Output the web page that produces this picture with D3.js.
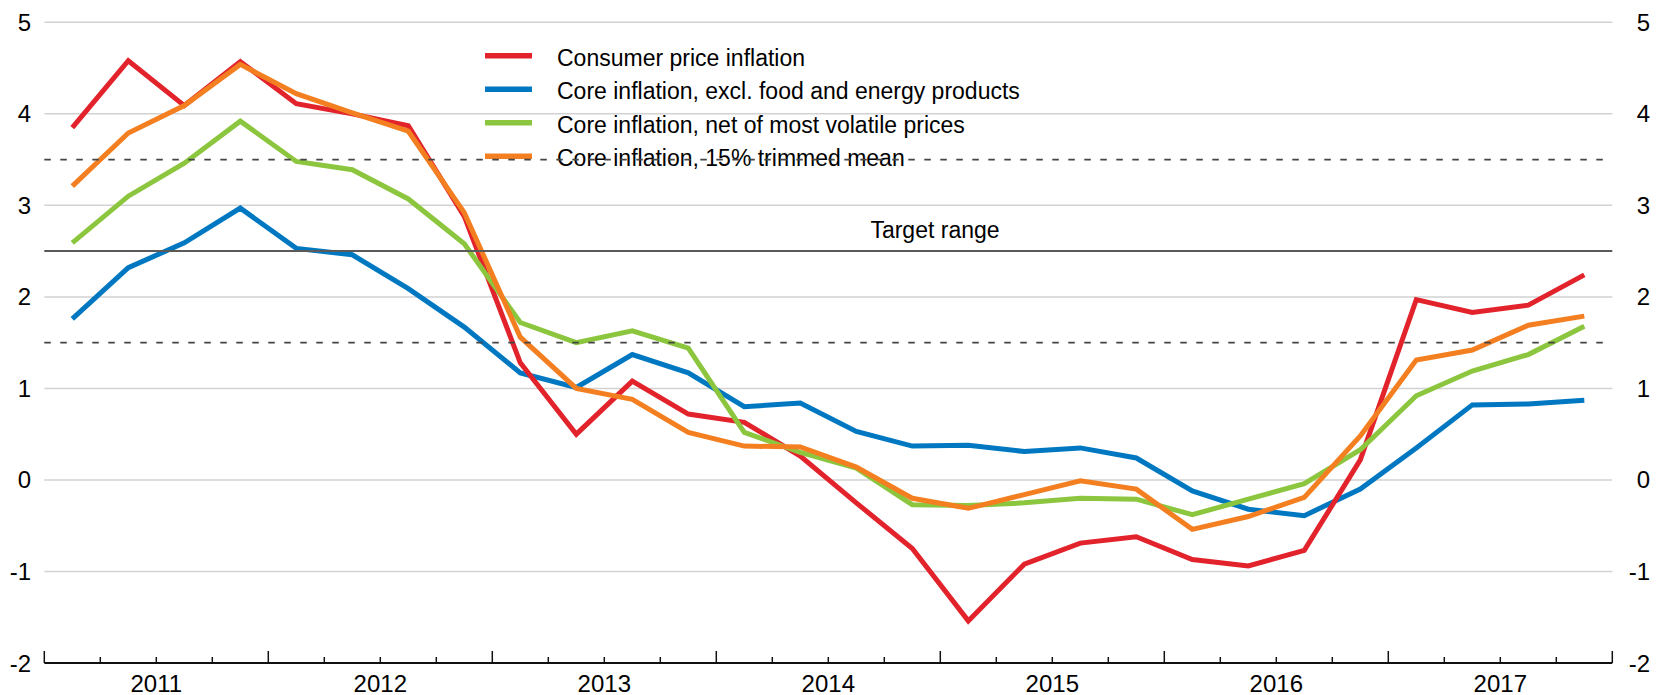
<!DOCTYPE html>
<html>
<head>
<meta charset="utf-8">
<script src="https://cdn.jsdelivr.net/npm/d3@7"></script>
<style>
  html, body { margin: 0; padding: 0; background: #fff; }
  svg { display: block; }
  text { font-family: "Liberation Sans", Arial, Helvetica, sans-serif; fill: #000; }
</style>
</head>
<body>
<svg id="chart" width="1665" height="695"></svg>
<script>
// ---- Data (quarterly, 2011 Q1 – 2017 Q4) ----
const quarters = [
  "2011Q1","2011Q2","2011Q3","2011Q4","2012Q1","2012Q2","2012Q3","2012Q4",
  "2013Q1","2013Q2","2013Q3","2013Q4","2014Q1","2014Q2","2014Q3","2014Q4",
  "2015Q1","2015Q2","2015Q3","2015Q4","2016Q1","2016Q2","2016Q3","2016Q4",
  "2017Q1","2017Q2","2017Q3","2017Q4"
];
const years = ["2011","2012","2013","2014","2015","2016","2017"];
const yTicks = [-2, -1, 0, 1, 2, 3, 4, 5];

const cpi = [3.85, 4.58, 4.09, 4.57, 4.11, 4.00, 3.87, 2.88, 1.28, 0.50, 1.08, 0.72, 0.63, 0.26,
             -0.25, -0.75, -1.54, -0.92, -0.69, -0.62, -0.87, -0.94, -0.77, 0.22, 1.97, 1.83, 1.91, 2.24];
const coreExFoodEnergy = [1.76, 2.32, 2.59, 2.97, 2.53, 2.46, 2.09, 1.67, 1.17, 1.01, 1.37, 1.17, 0.80, 0.84,
             0.53, 0.37, 0.38, 0.31, 0.35, 0.24, -0.12, -0.32, -0.39, -0.10, 0.35, 0.82, 0.83, 0.87];
const coreNetVolatile = [2.59, 3.10, 3.46, 3.92, 3.48, 3.39, 3.07, 2.58, 1.72, 1.50, 1.63, 1.44, 0.52, 0.30,
             0.13, -0.27, -0.28, -0.25, -0.20, -0.21, -0.38, -0.21, -0.04, 0.33, 0.92, 1.19, 1.37, 1.68];
const coreTrimmed = [3.21, 3.79, 4.09, 4.54, 4.22, 4.01, 3.81, 2.92, 1.56, 1.00, 0.88, 0.52, 0.37, 0.36,
             0.14, -0.20, -0.31, -0.16, -0.01, -0.10, -0.54, -0.40, -0.19, 0.48, 1.31, 1.42, 1.69, 1.79];

const seriesNames = [
  "Consumer price inflation",
  "Core inflation, excl. food and energy products",
  "Core inflation, net of most volatile prices",
  "Core inflation, 15% trimmed mean"
];
const seriesColors = ["#e2232b", "#0078c1", "#8cc63f", "#f47f20"];
const seriesValues = [cpi, coreExFoodEnergy, coreNetVolatile, coreTrimmed];

const targetMid = 2.5;
const targetBand = [1.5, 3.5];
const targetLabel = "Target range";

// ---- Layout ----
const svg = d3.select("#chart");
const plotLeft = 44.3, plotRight = 1612.3, plotTop = 22.3, plotBottom = 663;

const x = d3.scaleLinear().domain([0, quarters.length]).range([plotLeft, plotRight]);
const y = d3.scaleLinear().domain([-2, 5]).range([plotBottom, plotTop]);

// gridlines
svg.append("g").selectAll("line").data(yTicks.filter(d => d > -2)).join("line")
  .attr("x1", plotLeft).attr("x2", plotRight)
  .attr("y1", d => y(d)).attr("y2", d => y(d))
  .attr("stroke", "#d2d2d2").attr("stroke-width", 1.5);

// y labels left & right
const yl = svg.append("g");
yl.selectAll("text.l").data(yTicks).join("text").attr("class", "l")
  .attr("x", 31).attr("y", d => y(d) + 8.5)
  .attr("text-anchor", "end").attr("font-size", 24)
  .text(d => d);
yl.selectAll("text.r").data(yTicks).join("text").attr("class", "r")
  .attr("x", 1650).attr("y", d => y(d) + 8.5)
  .attr("text-anchor", "end").attr("font-size", 24)
  .text(d => d);

// series
const line = d3.line()
  .x((d, i) => x(i + 0.5))
  .y(d => y(d));
const order = [1, 0, 2, 3];
svg.append("g").selectAll("path").data(order).join("path")
  .attr("d", k => line(seriesValues[k]))
  .attr("fill", "none")
  .attr("stroke", k => seriesColors[k])
  .attr("stroke-width", 5)
  .attr("stroke-linejoin", "miter");

// legend
const lg = svg.append("g");
const legY0 = 55.7, legStep = 33.5;
seriesNames.forEach((name, i) => {
  lg.append("line")
    .attr("x1", 485).attr("x2", 532)
    .attr("y1", legY0 + i * legStep).attr("y2", legY0 + i * legStep)
    .attr("stroke", seriesColors[i]).attr("stroke-width", 5.5);
  lg.append("text")
    .attr("x", 557).attr("y", legY0 + i * legStep + 10)
    .attr("font-size", 23)
    .text(name);
});

// target range lines (drawn on top)
svg.append("line")
  .attr("x1", plotLeft).attr("x2", plotRight)
  .attr("y1", y(targetMid)).attr("y2", y(targetMid))
  .attr("stroke", "#5a5a5a").attr("stroke-width", 2);
svg.append("g").selectAll("line").data(targetBand).join("line")
  .attr("x1", plotLeft).attr("x2", 1605)
  .attr("y1", d => y(d)).attr("y2", d => y(d))
  .attr("stroke", "#454545").attr("stroke-width", 1.8)
  .attr("stroke-dasharray", "6.5,9.5");
svg.append("text")
  .attr("x", 935).attr("y", y(targetMid) - 13)
  .attr("text-anchor", "middle").attr("font-size", 23)
  .text(targetLabel);

// x axis
const ax = svg.append("g");
ax.append("line").attr("x1", plotLeft).attr("x2", plotRight)
  .attr("y1", plotBottom).attr("y2", plotBottom)
  .attr("stroke", "#111").attr("stroke-width", 2);
ax.selectAll("line.t").data(d3.range(quarters.length + 1)).join("line").attr("class", "t")
  .attr("x1", d => x(d)).attr("x2", d => x(d))
  .attr("y1", plotBottom).attr("y2", d => d % 4 === 0 ? plotBottom - 12 : plotBottom - 6)
  .attr("stroke", "#111").attr("stroke-width", 1.5);
ax.selectAll("text").data(years).join("text")
  .attr("x", (d, i) => x(i * 4 + 2))
  .attr("y", 691.5)
  .attr("text-anchor", "middle").attr("font-size", 24)
  .text(d => d);
</script>
</body>
</html>
